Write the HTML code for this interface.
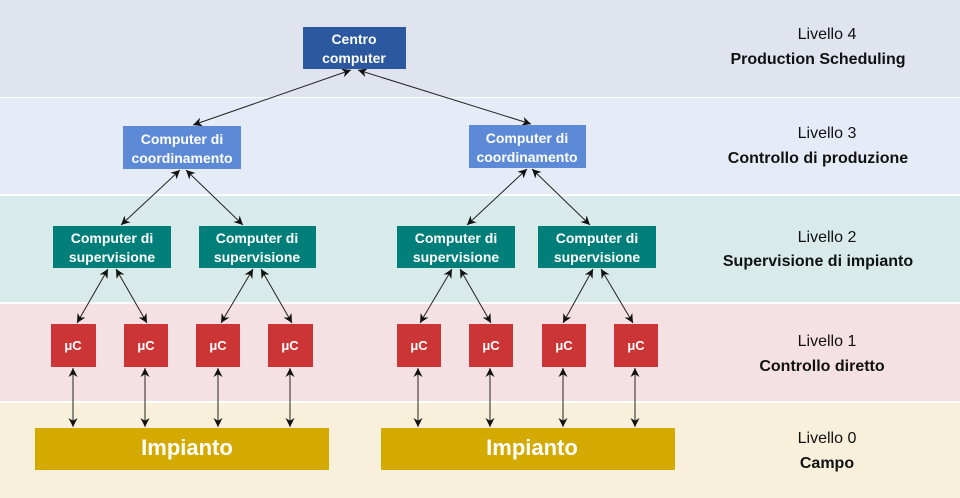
<!DOCTYPE html>
<html><head><meta charset="utf-8"><style>html,body{margin:0;padding:0;background:#fff}svg{display:block}</style></head>
<body>
<svg width="960" height="498" viewBox="0 0 960 498" xmlns="http://www.w3.org/2000/svg" font-family="Liberation Sans, sans-serif">
<defs>
<marker id="a" viewBox="0 0 10 10" refX="10" refY="5" markerWidth="9" markerHeight="9" orient="auto-start-reverse" markerUnits="userSpaceOnUse"><path d="M0,0 L10,5 L0,10 L3,5 z" fill="#111"/></marker>
</defs>
<rect x="0" y="0" width="960" height="97" fill="#dfe4ef"/>
<rect x="0" y="98" width="960" height="96" fill="#e6ecf7"/>
<rect x="0" y="196" width="960" height="106" fill="#d8ebea"/>
<rect x="0" y="304" width="960" height="97" fill="#f5e1e3"/>
<rect x="0" y="403" width="960" height="95" fill="#f8f0db"/>
<g stroke="#222" stroke-width="1" marker-start="url(#a)" marker-end="url(#a)" fill="none">
<line x1="351" y1="70" x2="193" y2="125"/>
<line x1="358" y1="70" x2="531" y2="124"/>
<line x1="180" y1="170" x2="121" y2="225"/>
<line x1="186" y1="170" x2="243" y2="225"/>
<line x1="527" y1="169" x2="467" y2="225"/>
<line x1="532" y1="169" x2="590" y2="225"/>
<line x1="108" y1="269" x2="77" y2="323"/><line x1="116" y1="269" x2="147" y2="323"/>
<line x1="253" y1="269" x2="221" y2="323"/><line x1="261" y1="269" x2="292" y2="323"/>
<line x1="452" y1="269" x2="420" y2="323"/><line x1="460" y1="269" x2="491" y2="323"/>
<line x1="593" y1="269" x2="563" y2="323"/><line x1="601" y1="269" x2="633" y2="323"/>
<line x1="73" y1="368" x2="73" y2="427"/><line x1="145" y1="368" x2="145" y2="427"/>
<line x1="218" y1="368" x2="218" y2="427"/><line x1="290" y1="368" x2="290" y2="427"/>
<line x1="418" y1="368" x2="418" y2="427"/><line x1="490" y1="368" x2="490" y2="427"/>
<line x1="563" y1="368" x2="563" y2="427"/><line x1="635" y1="368" x2="635" y2="427"/>
</g>
<rect x="303" y="27" width="103" height="42" fill="#2c58a0"/>
<rect x="123" y="126" width="118" height="43" fill="#5d8ad6"/>
<rect x="469" y="125" width="117" height="43" fill="#5d8ad6"/>
<g fill="#007f7a"><rect x="53" y="226" width="118" height="42"/><rect x="199" y="226" width="117" height="42"/><rect x="397" y="226" width="118" height="42"/><rect x="538" y="226" width="118" height="42"/></g>
<g fill="#cc3535"><rect x="51" y="324" width="45" height="43"/><rect x="124" y="324" width="44" height="43"/><rect x="196" y="324" width="44" height="43"/><rect x="268" y="324" width="45" height="43"/><rect x="397" y="324" width="44" height="43"/><rect x="469" y="324" width="44" height="43"/><rect x="542" y="324" width="44" height="43"/><rect x="614" y="324" width="44" height="43"/></g>
<g fill="#d4aa00"><rect x="35" y="428" width="294" height="42"/><rect x="381" y="428" width="294" height="42"/></g>
<g fill="#fff" font-weight="bold" font-size="14" text-anchor="middle">
<text x="354" y="44">Centro</text><text x="354" y="63">computer</text>
<text x="182" y="144">Computer di</text><text x="182" y="163">coordinamento</text>
<text x="527" y="143">Computer di</text><text x="527" y="162">coordinamento</text>
<text x="112" y="243">Computer di</text><text x="112" y="262">supervisione</text>
<text x="257" y="243">Computer di</text><text x="257" y="262">supervisione</text>
<text x="456" y="243">Computer di</text><text x="456" y="262">supervisione</text>
<text x="597" y="243">Computer di</text><text x="597" y="262">supervisione</text>
<g font-size="13"><text x="73" y="350">μC</text><text x="146" y="350">μC</text><text x="218" y="350">μC</text><text x="290" y="350">μC</text><text x="419" y="350">μC</text><text x="491" y="350">μC</text><text x="564" y="350">μC</text><text x="636" y="350">μC</text></g>
<g font-size="22"><text x="187" y="455">Impianto</text><text x="532" y="455">Impianto</text></g>
</g>
<g fill="#111" font-size="16" text-anchor="middle">
<text x="827" y="39">Livello 4</text><text x="818" y="64" font-weight="bold">Production Scheduling</text>
<text x="827" y="138">Livello 3</text><text x="818" y="163" font-weight="bold">Controllo di produzione</text>
<text x="827" y="242">Livello 2</text><text x="818" y="266" font-weight="bold">Supervisione di impianto</text>
<text x="827" y="346">Livello 1</text><text x="822" y="371" font-weight="bold">Controllo diretto</text>
<text x="827" y="443">Livello 0</text><text x="827" y="468" font-weight="bold">Campo</text>
</g>
</svg>
</body></html>
